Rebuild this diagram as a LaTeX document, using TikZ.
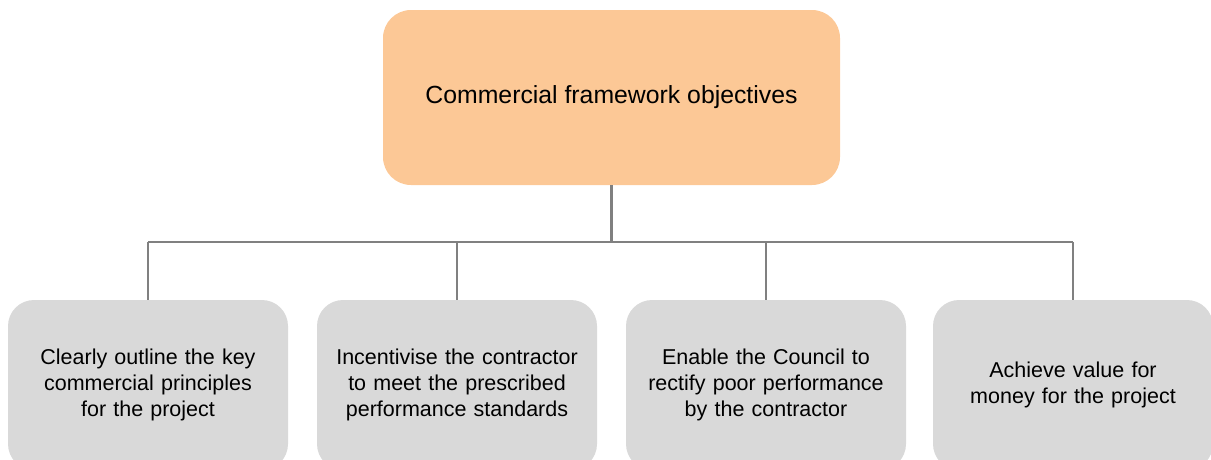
\documentclass[tikz,border=0pt]{standalone}
\usepackage{fontspec}
\setmainfont{Liberation Sans}
% tighter interword space used in the objective boxes
\protected\def\goalfont{\fontsize{21.5}{26}\selectfont\spaceskip=0.2em plus 0.05em minus 0.02em\relax}
\begin{document}
\begin{tikzpicture}[x=1pt,y=-1pt,
  headbox/.style={fill={rgb,255:red,252;green,200;blue,150}, draw=none,
    rounded corners=28pt, minimum width=457pt, minimum height=175pt,
    inner sep=0pt, font=\fontsize{24.8}{29}\selectfont},
  goalbox/.style={fill={rgb,255:red,217;green,217;blue,217}, draw=none,
    rounded corners=26pt, minimum width=280pt, minimum height=170pt,
    inner sep=0pt, align=center, text width=266pt, font=\goalfont},
  trunk/.style={draw={rgb,255:red,128;green,128;blue,128}, line width=3pt},
  branch/.style={draw={rgb,255:red,128;green,128;blue,128}, line width=1.6pt}]
\useasboundingbox (0,0) rectangle (1211,459);
\clip (0,0) rectangle (1211,459);

% root objective
\node[headbox] (top) at (611.5,97.5) {\raisebox{-3pt}{Commercial framework objectives}};

% the four objectives
\node[goalbox] (b1) at (148,385) {Clearly outline the key\\commercial principles\\for the project};
\node[goalbox] (b2) at (457,385) {Incentivise the contractor\\to meet the prescribed\\performance standards};
\node[goalbox] (b3) at (766,385) {Enable the Council to\\rectify poor performance\\by the contractor};
\node[goalbox] (b4) at (1073,385) {Achieve value for\\money for the project};

% tree connectors
\coordinate (hub) at (611.5,242);
\draw[trunk] (top.south) -- (hub);
\draw[branch] (b1.north |- hub) -- (b4.north |- hub);
\foreach \b in {b1,b2,b3,b4}
  \draw[branch] (\b.north |- hub) -- (\b.north);
\end{tikzpicture}
\end{document}
